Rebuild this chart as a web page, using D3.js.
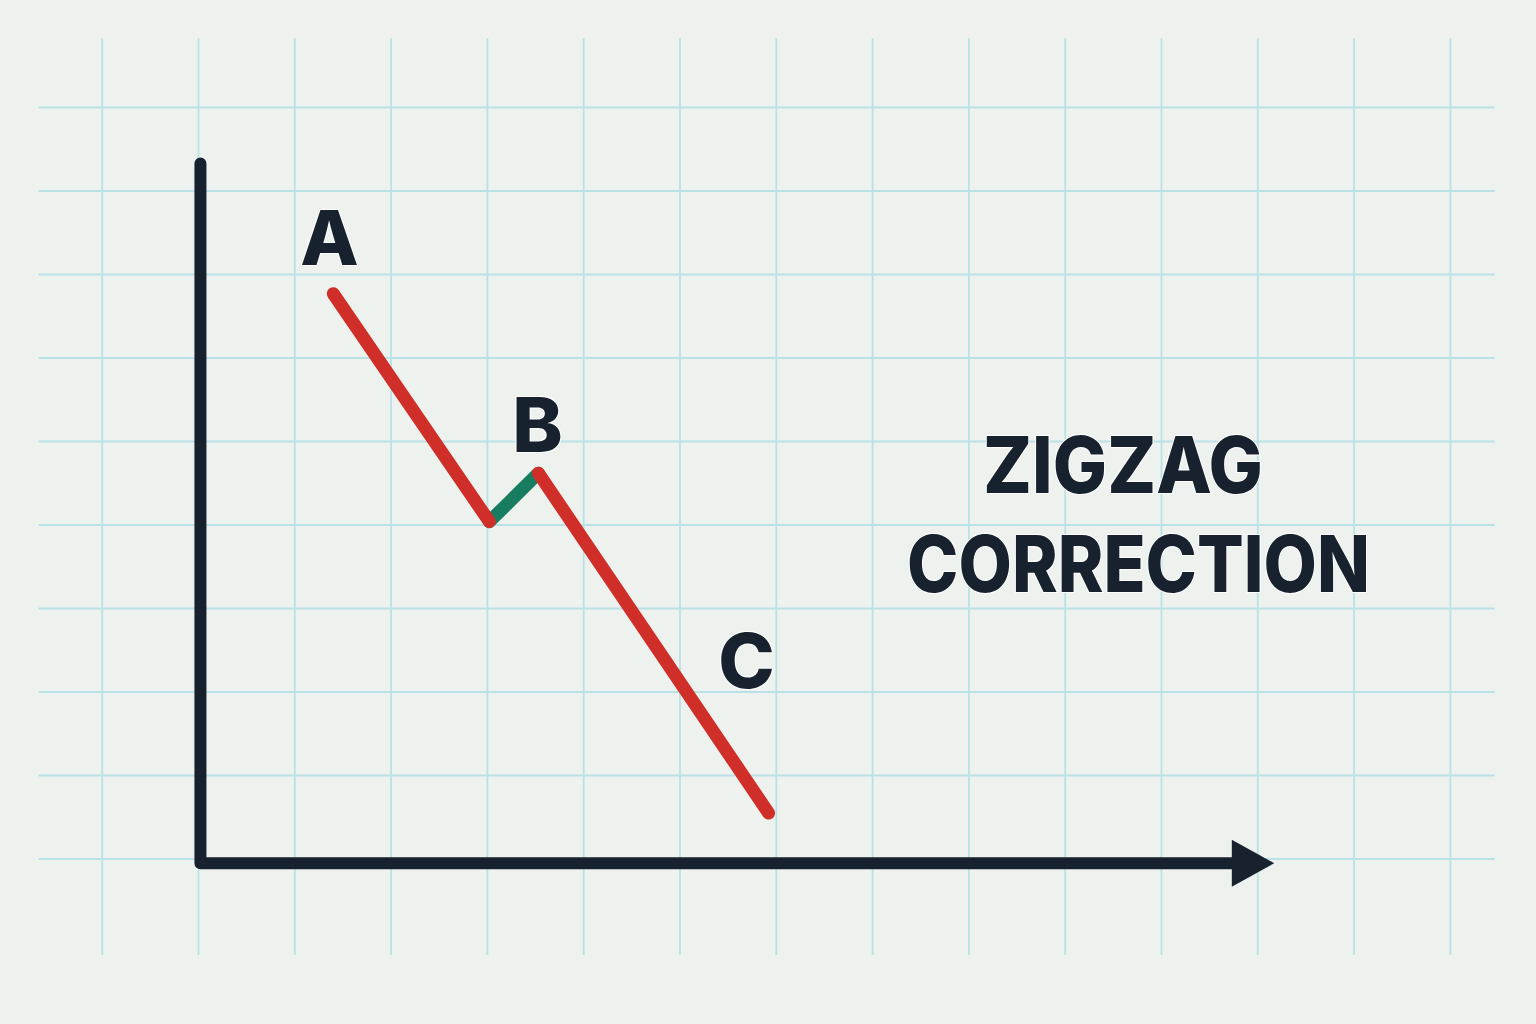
<!DOCTYPE html>
<html>
<head>
<meta charset="utf-8">
<script src="https://cdn.jsdelivr.net/npm/d3@7"></script>
<style>
  html, body { margin: 0; padding: 0; background: #eef2ee; }
  svg { display: block; }
  text { font-family: Inter, 'Open Sans', 'DejaVu Sans', sans-serif; font-weight: 800; fill: #17222e; }
</style>
</head>
<body>
<div id="chart"></div>
<script>
// wave pivots, in grid units (x = time, y = price)
const waveLabels = ['A', 'B', 'C']
const pivotX = [1.4, 3.02, 3.53, 5.92]
const pivotY = [6.77, 4.04, 4.62, 0.55]
const legColors = ['#d02f29', '#187c61', '#d02f29']
const labelX = [1.36, 3.52, 5.69]
const labelY = [7.11, 4.87, 2.05]
const gridXTicks = d3.range(-1, 14)
const gridYTicks = d3.range(0, 10)
const titleLines = ['ZIGZAG', 'CORRECTION']

const width = 1536
const height = 1024

const x = d3.scaleLinear().domain([0, 1]).range([198.5, 294.8])
const y = d3.scaleLinear().domain([0, 1]).range([859, 775.5])

const svg = d3.select('#chart').append('svg')
  .attr('width', width)
  .attr('height', height)

svg.append('rect')
  .attr('width', width)
  .attr('height', height)
  .attr('fill', '#eef2ee')

// grid
const grid = svg.append('g').attr('class', 'grid')
grid.selectAll('.vline')
  .data(gridXTicks)
  .enter()
  .append('line')
  .attr('class', 'vline')
  .attr('x1', d => x(d)).attr('x2', d => x(d))
  .attr('y1', y(9.83)).attr('y2', y(-1.15))
grid.selectAll('.hline')
  .data(gridYTicks)
  .enter()
  .append('line')
  .attr('class', 'hline')
  .attr('x1', x(-1.66)).attr('x2', x(13.46))
  .attr('y1', d => y(d)).attr('y2', d => y(d))
grid.selectAll('line')
  .attr('stroke', '#b9e1e6')
  .attr('stroke-width', 1.8)

// axes: one path with a rounded corner, plus the arrow head
const axisTop = 8.33
const axisEnd = 10.8
const axisY0 = -0.05
svg.append('path')
  .attr('d', d3.line()([
    [x(0.02), y(axisTop)],
    [x(0.02), y(axisY0)],
    [x(axisEnd), y(axisY0)]
  ]))
  .attr('fill', 'none')
  .attr('stroke', '#17222e')
  .attr('stroke-width', 12)
  .attr('stroke-linecap', 'round')
  .attr('stroke-linejoin', 'round')

const tipX = x(11.17)
const headX = x(10.73)
svg.append('path')
  .attr('d', `M${headX},${y(axisY0) - 23.5}L${tipX},${y(axisY0)}L${headX},${y(axisY0) + 23.5}Z`)
  .attr('fill', '#17222e')

// wave legs: corrective leg under the impulse legs
const legs = d3.range(pivotX.length - 1).map(i => ({
  i,
  from: [pivotX[i], pivotY[i]],
  to: [pivotX[i + 1], pivotY[i + 1]],
  color: legColors[i]
}))
const order = legs.slice().sort((a, b) => (a.color === legColors[1]) ? -1 : (b.color === legColors[1]) ? 1 : 0)

svg.append('g').attr('class', 'waves')
  .selectAll('line')
  .data(order)
  .enter()
  .append('line')
  .attr('x1', d => x(d.from[0])).attr('y1', d => y(d.from[1]))
  .attr('x2', d => x(d.to[0])).attr('y2', d => y(d.to[1]))
  .attr('stroke', d => d.color)
  .attr('stroke-width', 13)
  .attr('stroke-linecap', 'round')

// wave labels
svg.append('g').attr('class', 'labels')
  .selectAll('text')
  .data(waveLabels)
  .enter()
  .append('text')
  .attr('x', (d, i) => x(labelX[i]))
  .attr('y', (d, i) => y(labelY[i]))
  .attr('text-anchor', 'middle')
  .attr('font-size', 76)
  .attr('stroke', '#ffffff')
  .attr('stroke-width', 2)
  .attr('paint-order', 'stroke')
  .text(d => d)

// title
const titleX = [983, 907]
const titleY = [493, 592]
const titleW = [280, 463]
svg.append('g').attr('class', 'title')
  .selectAll('text')
  .data(titleLines)
  .enter()
  .append('text')
  .attr('x', (d, i) => titleX[i])
  .attr('y', (d, i) => titleY[i])
  .attr('font-size', 79)
  .attr('textLength', (d, i) => titleW[i])
  .attr('lengthAdjust', 'spacingAndGlyphs')
  .attr('stroke', '#ffffff')
  .attr('stroke-width', 2)
  .attr('paint-order', 'stroke')
  .text(d => d)
</script>
</body>
</html>
